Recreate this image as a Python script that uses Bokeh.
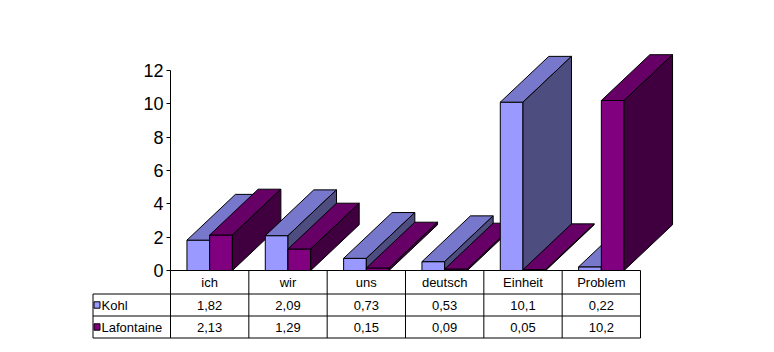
from bokeh.plotting import figure
from bokeh.models import Range1d, FixedTicker, ColumnDataSource, LinearAxis
from bokeh.embed import file_html
from bokeh.resources import INLINE
from bokeh.core.properties import value

# ---------------- data ----------------
categories = ["ich", "wir", "uns", "deutsch", "Einheit", "Problem"]
series_names = ["Kohl", "Lafontaine"]
kohl = [1.82, 2.09, 0.73, 0.53, 10.1, 0.22]
lafontaine = [2.13, 1.29, 0.15, 0.09, 0.05, 10.2]
y_ticks = [0, 2, 4, 6, 8, 10, 12]

# ---------------- style ----------------
front_colors = ["#9999FF", "#800080"]
top_colors = ["#7777CC", "#660066"]
side_colors = ["#4D4D80", "#400040"]
FONT = "Liberation Sans"

W, H = 774, 352
LEFT = 170            # pixel where the value axis / table grid starts
CAT_PX = 78.333       # pixel width of one category
Y0_PX = 270           # pixel row of value 0
UNIT_PX = 200.0 / 12  # pixels per value unit


def px2x(px):
    return (px - LEFT) / CAT_PX


def py2y(py):
    return (Y0_PX - py) / UNIT_PX


p = figure(width=W, height=H, x_range=Range1d(px2x(0), px2x(W)),
           y_range=Range1d(py2y(H), py2y(0)), output_backend="svg",
           toolbar_location=None, min_border=0, min_border_left=0,
           min_border_right=0, min_border_top=0, min_border_bottom=0,
           x_axis_location=None, y_axis_location=None)
p.grid.visible = False
p.outline_line_color = None
p.background_fill_color = "white"
p.border_fill_color = "white"

ya = LinearAxis(fixed_location=0, bounds=(0, 12), ticker=FixedTicker(ticks=y_ticks))
ya.major_tick_out = 4
ya.major_tick_in = 0
ya.minor_tick_out = 0
ya.minor_tick_in = 0
ya.major_label_standoff = 3
ya.major_label_text_font = FONT
ya.major_label_text_font_size = "18px"
ya.major_label_text_color = "black"
ya.axis_line_color = "black"
ya.major_tick_line_color = "black"
p.add_layout(ya, "left")

n = len(categories)

# x axis line
p.segment(x0=[0], y0=[0], x1=[n], y1=[0], line_color="black", line_width=1)

# ---------------- 3D bars ----------------
DX = 48.5 / CAT_PX
DY = 45.8 / UNIT_PX
offsets = [0.21, 0.5]
BW = 0.29

xs, ys, fills = [], [], []
for i in range(n):
    for s, vals in enumerate([kohl, lafontaine]):
        h = vals[i]
        xl = i + offsets[s]
        xr = xl + BW
        xs.append([xl, xr, xr, xl]); ys.append([0, 0, h, h]); fills.append(front_colors[s])
        xs.append([xl, xr, xr + DX, xl + DX]); ys.append([h, h, h + DY, h + DY]); fills.append(top_colors[s])
        xs.append([xr, xr + DX, xr + DX, xr]); ys.append([0, DY, h + DY, h]); fills.append(side_colors[s])

src = ColumnDataSource(dict(xs=xs, ys=ys, fill=fills))
p.patches("xs", "ys", source=src, fill_color="fill", line_color="black",
          line_width=1, line_join="miter")

# ---------------- data table ----------------
row_lines = [py2y(293.5), py2y(315.5), py2y(337.5)]
hdr_c, r1_c, r2_c = py2y(282.0), py2y(304.5), py2y(326.5)
lab_left = px2x(92.5)

p.segment(x0=list(range(n + 1)), y0=[0] * (n + 1), x1=list(range(n + 1)),
          y1=[row_lines[2]] * (n + 1), line_color="black", line_width=1)
p.segment(x0=[lab_left], y0=[row_lines[0]], x1=[lab_left], y1=[row_lines[2]],
          line_color="black", line_width=1)
p.segment(x0=[lab_left] * 3, y0=row_lines, x1=[n] * 3, y1=row_lines,
          line_color="black", line_width=1)

cx = [i + 0.5 for i in range(n)]
tstyle = dict(text_font=value(FONT), text_font_size="13px", text_color="black",
              text_baseline="middle")
p.text(x=cx, y=[hdr_c] * n, text=categories, text_align="center", **tstyle)


def fmt(v):
    return ("%g" % v).replace(".", ",")


p.text(x=cx, y=[r1_c] * n, text=[fmt(v) for v in kohl], text_align="center", **tstyle)
p.text(x=cx, y=[r2_c] * n, text=[fmt(v) for v in lafontaine], text_align="center", **tstyle)

p.text(x=[px2x(101)] * 2, y=[r1_c, r2_c], text=series_names, text_align="left", **tstyle)
sq = 3.2 / UNIT_PX
p.quad(left=[px2x(93.5)] * 2, right=[px2x(99.5)] * 2,
       top=[r1_c + sq, r2_c + sq], bottom=[r1_c - sq, r2_c - sq],
       fill_color=front_colors, line_color="black", line_width=1)

open("out.html", "w").write(file_html(p, INLINE))
